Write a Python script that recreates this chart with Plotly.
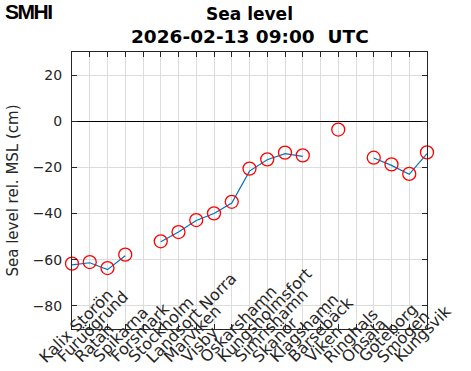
import plotly.graph_objects as go

stations = ["Kalix Storön", "Furuögrund", "Ratan", "Spikarna", "Forsmark", "Stockholm",
            "Landsort Norra", "Marviken", "Visby", "Oskarshamn", "Kungsholmsfort",
            "Simrishamn", "Skanör", "Klagshamn", "Barsebäck", "Viken", "Ringhals",
            "Onsala", "Göteborg", "Smögen", "Kungsvik"]

observed = [-61.7, -61.0, -63.6, -57.8, None, -52.0, -48.0, -42.8, -39.9, -34.9, -20.5,
            -16.5, -13.6, -14.8, None, -3.6, None, -15.8, -18.7, -22.8, -13.5]

modelled = [-62.2, -61.3, -64.3, -58.3, None, -52.2, -48.0, -43.0, -40.0, -35.4, -21.6,
            -16.7, -14.0, -15.2, None, None, None, -15.9, -19.1, -23.0, -14.0]

y_ticks = [-80, -60, -40, -20, 0, 20]
y_tick_labels = ["\u221280", "\u221260", "\u221240", "\u221220", "0", "20"]

x_pos = list(range(1, len(stations) + 1))

W, H = 471, 371
ML, MR, MT, MB = 72, 44, 52, 42
plot_w = W - ML - MR
plot_h = H - MT - MB

fig = go.Figure()
fig.add_trace(go.Scatter(x=x_pos, y=modelled, mode="lines",
                         line=dict(color="#0072BD", width=1.2),
                         connectgaps=False, hoverinfo="skip", cliponaxis=False))
fig.add_trace(go.Scatter(x=x_pos, y=observed, mode="markers",
                         marker=dict(symbol="circle-open", size=13,
                                     line=dict(color="red", width=1.3), color="red"),
                         cliponaxis=False))

axis_font = dict(family="DejaVu Sans", size=14, color="#262626")
label_font = dict(family="DejaVu Sans", size=16, color="#262626")

fig.update_xaxes(range=[1, 21], tickvals=x_pos, showticklabels=False,
                 showgrid=True, gridcolor="#dcdcdc", gridwidth=1,
                 showline=True, linecolor="#262626", linewidth=1, mirror="ticks",
                 ticks="inside", ticklen=5, tickcolor="#262626", automargin=False,
                 zeroline=False)
fig.update_yaxes(range=[-90, 30], tickvals=y_ticks, ticktext=y_tick_labels,
                 tickfont=axis_font, ticklabelstandoff=6,
                 showgrid=True, gridcolor="#dcdcdc", gridwidth=1,
                 showline=True, linecolor="#262626", linewidth=1, mirror="ticks",
                 ticks="inside", ticklen=5, tickcolor="#262626", automargin=False,
                 zeroline=True, zerolinecolor="black", zerolinewidth=1.2,
                 title=dict(text="Sea level rel. MSL (cm)",
                            font=dict(family="DejaVu Sans", size=15, color="#262626"),
                            standoff=10))

annotations = [
    dict(text="<b>Sea level</b>", x=0.5, xref="paper", y=1 + (MT - 14) / plot_h, yref="paper",
         xanchor="center", yanchor="middle", showarrow=False,
         font=dict(family="DejaVu Sans", size=17, color="black")),
    dict(text="<b>2026-02-13 09:00  UTC</b>", x=0.5, xref="paper", y=1 + (MT - 36) / plot_h,
         yref="paper", xanchor="center", yanchor="middle", showarrow=False,
         font=dict(family="DejaVu Sans", size=18.5, color="black")),
    dict(text="<b><span style='letter-spacing:-1.5px'>SMHI</span></b>", xref="paper", yref="paper",
         x=(3 - ML) / plot_w, y=1 + (MT - 12) / plot_h, xanchor="left", yanchor="middle",
         showarrow=False, font=dict(family="Liberation Sans", size=21, color="black")),
]

# rotated station labels under the axis
for xp, name in zip(x_pos, stations):
    annotations.append(dict(text=name, x=xp, xref="x", y=0, yref="paper",
                            xanchor="left", yanchor="bottom", textangle=-45,
                            xshift=-39, yshift=-40, showarrow=False,
                            font=label_font))

fig.update_layout(
    width=W, height=H,
    margin=dict(l=ML, r=MR, t=MT, b=MB),
    plot_bgcolor="white", paper_bgcolor="white",
    showlegend=False,
    annotations=annotations,
)

fig.write_html("out.html", config={"displayModeBar": False},
               post_script="document.body.style.margin='0px';")
